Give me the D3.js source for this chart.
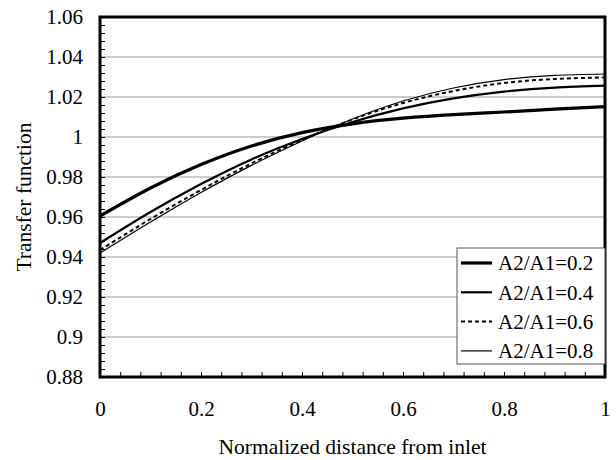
<!DOCTYPE html>
<html>
<head>
<meta charset="utf-8">
<script src="https://cdn.jsdelivr.net/npm/d3@7"></script>
<style>
  body { margin: 0; background: #fff; }
  svg text { font-family: "Liberation Serif", "Times New Roman", serif; fill: #000; }
</style>
</head>
<body>
<div id="container"></div>
<script>
// Data (x = normalized distance)
var xValues = [0, 0.1, 0.2, 0.3, 0.4, 0.5, 0.6, 0.7, 0.8, 0.9, 1.0];
var ratio02 = [0.9605, 0.9745, 0.9862, 0.9955, 1.0022, 1.0066, 1.0094, 1.0112, 1.0125, 1.0139, 1.0152];
var ratio04 = [0.9470, 0.9625, 0.9765, 0.9888, 0.9990, 1.0075, 1.0143, 1.0193, 1.0227, 1.0247, 1.0257];
var ratio06 = [0.9435, 0.9590, 0.9735, 0.9868, 0.9985, 1.0088, 1.0170, 1.0230, 1.0270, 1.0290, 1.0298];
var ratio08 = [0.9420, 0.9575, 0.9722, 0.9858, 0.9980, 1.0090, 1.0180, 1.0245, 1.0287, 1.0308, 1.0315];
var seriesNames = ['A2/A1=0.2', 'A2/A1=0.4', 'A2/A1=0.6', 'A2/A1=0.8'];
var xTicks = [0, 0.2, 0.4, 0.6, 0.8, 1];
var yTicks = [0.88, 0.9, 0.92, 0.94, 0.96, 0.98, 1, 1.02, 1.04, 1.06];

var WIDTH = 616,
    HEIGHT = 460;
var padL = 100, padR = 605, padT = 17, padB = 377;

var series = [
    { name: seriesNames[0], values: ratio02, width: 3.2, dash: null },
    { name: seriesNames[1], values: ratio04, width: 2.2, dash: null },
    { name: seriesNames[2], values: ratio06, width: 2, dash: '4,3' },
    { name: seriesNames[3], values: ratio08, width: 1.2, dash: null }
];

var svg = d3.select('#container')
    .append('svg')
    .attr('width', WIDTH)
    .attr('height', HEIGHT);

var x = d3.scaleLinear().domain([0, 1]).range([padL, padR]);
var y = d3.scaleLinear().domain([0.88, 1.06]).range([padB, padT]);

// gridlines
svg.append('g')
    .selectAll('line')
    .data(yTicks.slice(1, -1))
    .enter()
    .append('line')
    .attr('x1', padL).attr('x2', padR)
    .attr('y1', function(d) { return y(d); })
    .attr('y2', function(d) { return y(d); })
    .attr('stroke', '#999')
    .attr('stroke-width', 1);

// minor ticks (inside)
var yMinor = d3.range(0, 46).map(function(i) { return 0.88 + i * 0.004; });
var xMinor = d3.range(0, 26).map(function(i) { return i * 0.04; });

svg.append('g')
    .attr('transform', 'translate(' + padL + ',0)')
    .call(d3.axisRight(y).tickValues(yMinor).tickSize(5).tickFormat(''))
    .call(function(g) { g.select('.domain').remove(); });

svg.append('g')
    .attr('transform', 'translate(0,' + padB + ')')
    .call(d3.axisTop(x).tickValues(xMinor).tickSize(5).tickFormat(''))
    .call(function(g) { g.select('.domain').remove(); });

// tick labels
var fmt = function(d) { return d3.format('~g')(+d.toFixed(2)); };

svg.append('g')
    .attr('transform', 'translate(' + padL + ',0)')
    .call(d3.axisLeft(y).tickValues(yTicks).tickSize(0).tickPadding(17).tickFormat(fmt))
    .call(function(g) {
        g.select('.domain').remove();
        g.selectAll('text').attr('font-size', 21).attr('font-family', 'Liberation Serif');
    });

svg.append('g')
    .attr('transform', 'translate(0,' + padB + ')')
    .call(d3.axisBottom(x).tickValues(xTicks).tickSize(0).tickPadding(24).tickFormat(fmt))
    .call(function(g) {
        g.select('.domain').remove();
        g.selectAll('text').attr('font-size', 21).attr('font-family', 'Liberation Serif');
    });

// curves
var line = d3.line()
    .x(function(d, i) { return x(xValues[i]); })
    .y(function(d) { return y(d); })
    .curve(d3.curveNatural);

svg.append('g')
    .selectAll('path')
    .data(series)
    .enter()
    .append('path')
    .attr('d', function(d) { return line(d.values); })
    .attr('fill', 'none')
    .attr('stroke', '#000')
    .attr('stroke-width', function(d) { return d.width; })
    .attr('stroke-dasharray', function(d) { return d.dash; });

// frame
svg.append('rect')
    .attr('x', padL).attr('y', padT)
    .attr('width', padR - padL).attr('height', padB - padT)
    .attr('fill', 'none')
    .attr('stroke', '#000')
    .attr('stroke-width', 3);

// legend
var legend = svg.append('g').attr('transform', 'translate(457,248)');
legend.append('rect')
    .attr('width', 148).attr('height', 116)
    .attr('fill', '#fff')
    .attr('stroke', '#555')
    .attr('stroke-width', 1);

var item = legend.selectAll('.item')
    .data(series)
    .enter()
    .append('g')
    .attr('class', 'item')
    .attr('transform', function(d, i) { return 'translate(0,' + (15 + i * 29.3) + ')'; });

item.append('line')
    .attr('x1', 4).attr('x2', 35)
    .attr('stroke', '#000')
    .attr('stroke-width', function(d) { return d.width; })
    .attr('stroke-dasharray', function(d) { return d.dash; });

item.append('text')
    .attr('x', 41)
    .attr('dy', '0.35em')
    .attr('font-size', 21)
    .text(function(d) { return d.name; });

// axis titles
svg.append('text')
    .attr('x', (padL + padR) / 2)
    .attr('y', 454)
    .attr('text-anchor', 'middle')
    .attr('font-size', 21.5)
    .text('Normalized distance from inlet');

svg.append('text')
    .attr('transform', 'translate(31,' + (padT + padB) / 2 + ') rotate(-90)')
    .attr('text-anchor', 'middle')
    .attr('font-size', 21.5)
    .text('Transfer function');
</script>
</body>
</html>
